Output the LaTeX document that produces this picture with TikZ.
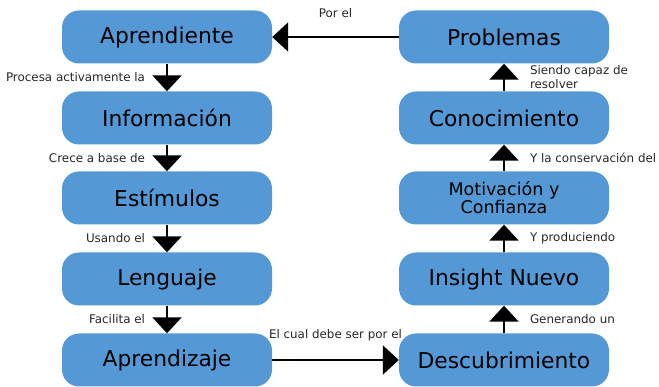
\documentclass[tikz,border=0pt]{standalone}
\usepackage{fontspec}
\setmainfont{DejaVu Sans}
\usetikzlibrary{arrows.meta}
\definecolor{cajaazul}{RGB}{84,153,214}
\begin{document}
\begin{tikzpicture}[x=1pt, y=-1pt]
    % estilos
    \tikzstyle{caja}=[fill=cajaazul, rounded corners=17pt, minimum width=210pt, minimum height=53pt, inner sep=0pt, align=center, font=\fontsize{21.8}{24}\selectfont]
    \tikzstyle{flecha}=[line width=2pt, -{Triangle[length=16pt, width=29pt]}]
    \tikzstyle{etiqueta}=[font=\fontsize{11.9}{14}\selectfont, text=black!85, inner sep=2pt]

    \useasboundingbox (0,0) rectangle (659,387);

    % columna izquierda
    \node[caja] (apr)  at (167,37)  {Aprendiente};
    \node[caja] (inf)  at (167,118) {Información};
    \node[caja] (est)  at (167,198) {Estímulos};
    \node[caja] (len)  at (167,279) {Lenguaje};
    \node[caja] (apz)  at (167,360) {Aprendizaje};

    % columna derecha
    \node[caja] (prob) at (504,37)  {Problemas};
    \node[caja] (con)  at (504,118) {Conocimiento};
    \node[caja, font=\fontsize{17.5}{18}\selectfont] (mot) at (504,198) {Motivación y\\Confianza};
    \node[caja] (ins)  at (504,279) {Insight Nuevo};
    \node[caja] (desc) at (504,360) {Descubrimiento};

    % flechas hacia abajo
    \draw[flecha] (apr) -- (inf) node[etiqueta, midway, left=19pt] (e1) {Procesa activamente la};
    \draw[flecha] (inf) -- (est) node[etiqueta, midway, left=19pt] (e2) {Crece a base de};
    \draw[flecha] (est) -- (len) node[etiqueta, midway, left=19pt] (e3) {Usando el};
    \draw[flecha] (len) -- (apz) node[etiqueta, midway, left=19pt] (e4) {Facilita el};

    % abajo, de izquierda a derecha
    \draw[flecha] (apz) -- (desc) node[etiqueta, midway, above=16pt] (e5) {El cual debe ser por el};

    % flechas hacia arriba
    \draw[flecha] (desc) -- (ins) node[etiqueta, midway, right=23pt] (e6) {Generando un};
    \draw[flecha] (ins) -- (mot) node[etiqueta, midway, right=23pt] (e7) {Y produciendo};
    \draw[flecha] (mot) -- (con) node[etiqueta, midway, right=23pt] (e8) {Y la conservación del};
    \draw[flecha] (con) -- (prob) node[etiqueta, midway, right=23pt, align=left] (e9) {Siendo capaz de\\resolver};

    % arriba, de vuelta al aprendiente
    \draw[flecha] (prob) -- (apr) node[etiqueta, midway, above=16pt] (e10) {Por el};
\end{tikzpicture}
\end{document}
